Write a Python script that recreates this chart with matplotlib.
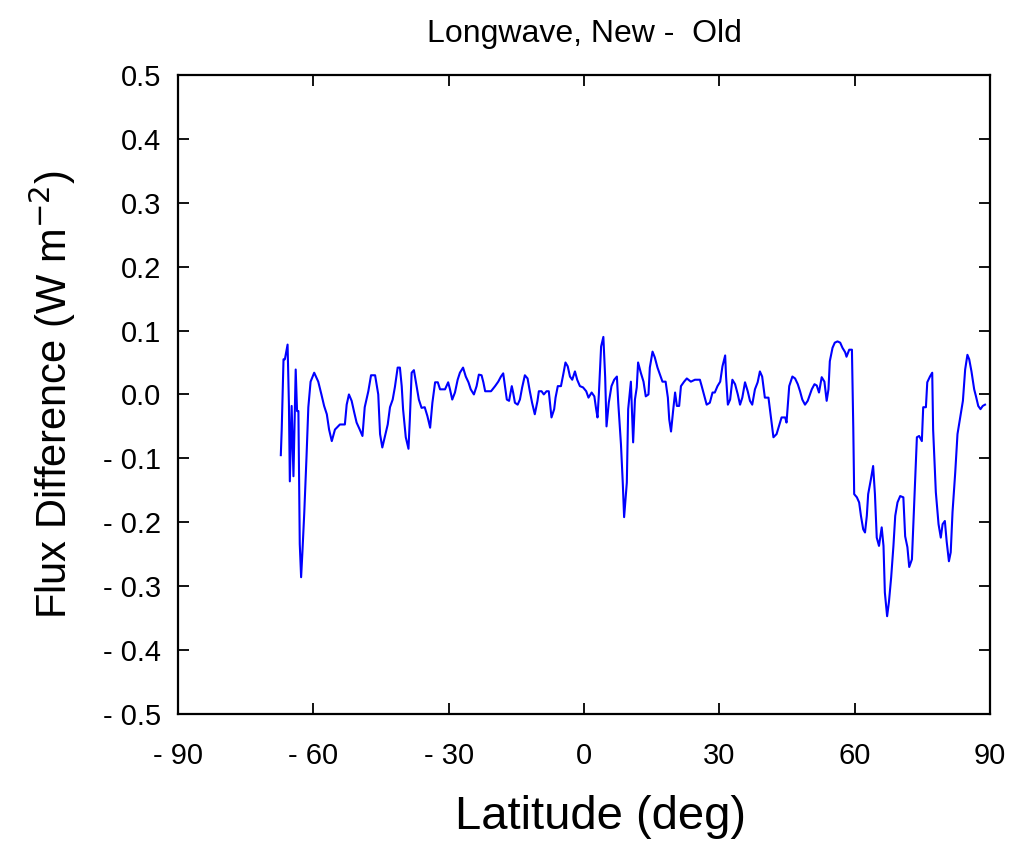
import matplotlib
matplotlib.use("Agg")
import matplotlib.pyplot as plt

# zonal mean longwave flux difference (new minus old), W m-2
lat = [
    -67.2, -67.0, -66.6, -66.3, -65.7, -65.4, -65.2, -64.8, -64.4, -63.9,
    -63.6, -63.3, -63.0, -62.7, -62.4, -62.0, -61.5, -61.1, -60.6, -59.8,
    -58.9, -58.2, -57.6, -57.0, -56.5, -55.9, -55.2, -54.1, -53.0, -52.6,
    -52.1, -51.5, -50.9, -50.4, -49.7, -49.1, -48.6, -47.8, -47.2, -46.3,
    -45.6, -45.2, -44.7, -44.1, -43.5, -43.0, -42.4, -41.9, -41.3, -40.8,
    -40.4, -40.1, -39.5, -38.9, -38.6, -38.2, -37.7, -37.1, -36.6, -36.0,
    -35.3, -34.7, -34.1, -33.6, -33.0, -32.4, -31.9, -30.8, -30.1, -29.7,
    -29.2, -28.6, -28.0, -27.5, -26.8, -26.2, -25.6, -25.1, -24.4, -23.8,
    -23.3, -22.7, -22.3, -21.9, -20.6, -19.7, -19.0, -18.4, -17.9, -17.5,
    -17.1, -16.6, -16.0, -15.7, -15.3, -14.7, -14.2, -13.7, -13.1, -12.5,
    -12.0, -11.5, -10.9, -10.3, -10.0, -9.4, -8.9, -8.3, -7.8, -7.2,
    -6.6, -6.3, -5.8, -5.1, -4.6, -4.1, -3.6, -3.1, -2.6, -2.0,
    -1.5, -0.9, -0.2, 0.5, 1.0, 1.7, 2.3, 2.7, 3.0, 3.3,
    3.8, 4.3, 4.7, 5.0, 5.5, 6.1, 6.7, 7.3, 7.6, 8.2,
    8.6, 8.9, 9.5, 9.8, 10.4, 10.9, 11.3, 11.7, 12.0, 12.6,
    13.2, 13.7, 14.3, 14.6, 15.2, 15.7, 16.3, 16.9, 17.4, 18.1,
    18.6, 18.9, 19.3, 19.8, 20.2, 20.6, 21.1, 21.5, 22.2, 22.8,
    23.7, 24.6, 25.7, 26.1, 26.7, 27.2, 27.9, 28.5, 29.0, 29.6,
    30.2, 30.7, 31.3, 31.5, 31.9, 32.4, 32.9, 33.5, 34.1, 34.6,
    35.1, 35.7, 36.3, 36.8, 37.3, 37.9, 38.5, 39.0, 39.5, 40.1,
    40.9, 41.5, 42.0, 42.7, 43.2, 43.8, 44.6, 44.9, 45.5, 46.2,
    46.8, 47.4, 47.9, 48.4, 49.0, 49.6, 50.1, 50.5, 51.1, 51.6,
    52.1, 52.7, 53.3, 53.8, 54.2, 54.5, 55.1, 55.6, 56.2, 56.8,
    57.3, 57.9, 58.2, 58.8, 59.4, 59.7, 59.9, 60.5, 61.0, 61.4,
    61.9, 62.3, 62.7, 63.0, 63.6, 64.1, 64.5, 64.9, 65.4, 66.0,
    66.4, 66.7, 67.2, 67.6, 68.1, 68.6, 69.0, 69.5, 70.1, 70.8,
    71.2, 71.7, 72.1, 72.7, 73.0, 73.4, 73.8, 74.3, 74.9, 75.2,
    75.8, 76.1, 76.7, 77.2, 77.4, 78.0, 78.6, 79.1, 79.5, 80.0,
    80.4, 80.9, 81.3, 81.7, 82.3, 82.8, 83.4, 84.0, 84.5, 85.0,
    85.4, 85.9, 86.5, 86.9, 87.4, 87.9, 88.4, 88.9,
]
flux = [
    -0.095, -0.055, 0.055, 0.055, 0.078, -0.016, -0.136, -0.018, -0.128, 0.039,
    -0.026, -0.026, -0.234, -0.286, -0.245, -0.185, -0.097, -0.020, 0.020, 0.034,
    0.020, 0.000, -0.018, -0.031, -0.055, -0.073, -0.055, -0.047, -0.047, -0.016,
    0.000, -0.010, -0.029, -0.044, -0.055, -0.065, -0.020, 0.005, 0.030, 0.030,
    0.000, -0.062, -0.083, -0.065, -0.047, -0.020, -0.008, 0.012, 0.042, 0.042,
    0.013, -0.023, -0.067, -0.085, -0.039, 0.034, 0.038, 0.013, -0.008, -0.021,
    -0.020, -0.034, -0.052, -0.013, 0.019, 0.019, 0.008, 0.008, 0.019, 0.008,
    -0.008, 0.003, 0.023, 0.034, 0.042, 0.028, 0.019, 0.008, 0.000, 0.013,
    0.031, 0.030, 0.019, 0.005, 0.005, 0.013, 0.020, 0.028, 0.033, 0.013,
    -0.008, -0.010, 0.013, 0.003, -0.013, -0.016, -0.008, 0.011, 0.030, 0.025,
    0.005, -0.013, -0.031, -0.010, 0.005, 0.005, 0.000, 0.005, 0.005, -0.036,
    -0.023, -0.005, 0.013, 0.013, 0.031, 0.050, 0.044, 0.028, 0.023, 0.036,
    0.023, 0.013, 0.011, 0.005, -0.005, 0.003, -0.003, -0.023, -0.036, 0.000,
    0.075, 0.090, 0.027, -0.050, -0.013, 0.013, 0.023, 0.028, -0.013, -0.078,
    -0.138, -0.192, -0.138, -0.023, 0.020, -0.075, -0.008, 0.011, 0.050, 0.034,
    0.020, -0.003, 0.000, 0.042, 0.067, 0.058, 0.042, 0.030, 0.020, 0.020,
    -0.005, -0.039, -0.058, -0.023, 0.003, -0.018, -0.018, 0.013, 0.020, 0.025,
    0.020, 0.023, 0.023, 0.013, -0.003, -0.016, -0.013, 0.003, 0.003, 0.013,
    0.020, 0.044, 0.061, 0.028, -0.016, -0.008, 0.023, 0.016, 0.000, -0.016,
    -0.005, 0.019, 0.005, -0.010, -0.016, 0.008, 0.019, 0.036, 0.028, -0.005,
    -0.005, -0.039, -0.067, -0.062, -0.050, -0.036, -0.036, -0.044, 0.013, 0.028,
    0.025, 0.016, 0.005, -0.008, -0.016, -0.010, 0.000, 0.008, 0.016, 0.014,
    0.003, 0.027, 0.020, -0.010, 0.008, 0.052, 0.073, 0.081, 0.083, 0.081,
    0.073, 0.066, 0.059, 0.070, 0.070, -0.052, -0.156, -0.161, -0.169, -0.190,
    -0.211, -0.216, -0.190, -0.156, -0.133, -0.112, -0.156, -0.224, -0.237, -0.208,
    -0.237, -0.310, -0.347, -0.325, -0.286, -0.237, -0.190, -0.169, -0.159, -0.161,
    -0.222, -0.239, -0.270, -0.258, -0.206, -0.138, -0.067, -0.065, -0.073, -0.020,
    -0.020, 0.019, 0.028, 0.034, -0.055, -0.153, -0.203, -0.224, -0.203, -0.198,
    -0.230, -0.261, -0.247, -0.184, -0.122, -0.062, -0.036, -0.010, 0.039, 0.062,
    0.055, 0.036, 0.008, -0.003, -0.018, -0.023, -0.018, -0.016,
]

xticks = [-90, -60, -30, 0, 30, 60, 90]
xticklabels = ["- 90", "- 60", "- 30", "0", "30", "60", "90"]
yticks = [0.5, 0.4, 0.3, 0.2, 0.1, 0.0, -0.1, -0.2, -0.3, -0.4, -0.5]
yticklabels = ["0.5", "0.4", "0.3", "0.2", "0.1", "0.0",
               "- 0.1", "- 0.2", "- 0.3", "- 0.4", "- 0.5"]

sans = ["Liberation Sans", "DejaVu Sans"]

fig = plt.figure(figsize=(10.14, 8.51), dpi=100)
ax = fig.add_axes([0.1755, 0.161, 0.8008, 0.751])

ax.plot(lat, flux, color="#0000ff", lw=1.5)

ax.set_xlim(-90, 90)
ax.set_ylim(-0.5, 0.5)
ax.set_xticks(xticks)
ax.set_xticklabels(xticklabels, family=sans, fontsize=21)
ax.set_yticks(yticks)
ax.set_yticklabels(yticklabels, family=sans, fontsize=21)
ax.tick_params(direction="in", top=True, right=True, length=8, width=1.3)
ax.tick_params(axis="x", pad=20)
ax.tick_params(axis="y", pad=12)
for s in ax.spines.values():
    s.set_linewidth(1.6)

ax.set_title("Longwave, New -  Old", family=sans, fontsize=23, pad=24)
ax.set_xlabel("Latitude (deg)", family=sans, fontsize=34, labelpad=18)
ax.xaxis.label.set_x(0.52)
ax.set_ylabel("Flux Difference (W m$^{-2}$)", family=sans, fontsize=30, labelpad=18)

fig.savefig("out.png", dpi=100)
